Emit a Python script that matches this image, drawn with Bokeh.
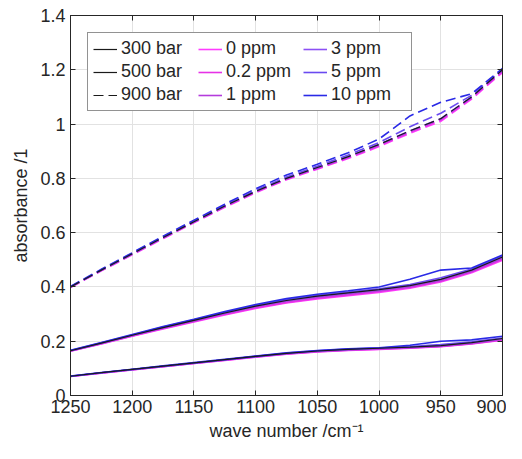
from bokeh.plotting import figure
from bokeh.models import (Range1d, LinearAxis, Legend, LegendItem, FixedTicker,
                          NumeralTickFormatter, CustomJSTickFormatter)
from bokeh.embed import file_html
from bokeh.resources import INLINE

wavenumber = [1250, 1225, 1200, 1175, 1150, 1125, 1100, 1075, 1050, 1025, 1000, 975, 950, 925, 900]

ppm_labels = ["0 ppm", "0.2 ppm", "1 ppm", "3 ppm", "5 ppm", "10 ppm"]
ppm_colors = ["#ff3cff", "#e632e6", "#b43cdc", "#8c50f5", "#6a4af0", "#2a2ae6"]
pressure_labels = ["300 bar", "500 bar", "900 bar"]
pressure_dash = ["solid", "solid", "10 5"]

# 300 bar
a300_0   = [0.070, 0.082, 0.094, 0.106, 0.118, 0.129, 0.141, 0.152, 0.160, 0.166, 0.170, 0.174, 0.180, 0.190, 0.204]
a300_02  = [0.070, 0.083, 0.095, 0.106, 0.118, 0.130, 0.142, 0.153, 0.161, 0.167, 0.171, 0.175, 0.181, 0.191, 0.205]
a300_1   = [0.071, 0.083, 0.095, 0.107, 0.119, 0.131, 0.143, 0.154, 0.162, 0.168, 0.172, 0.176, 0.182, 0.192, 0.207]
a300_3   = [0.071, 0.084, 0.096, 0.108, 0.120, 0.132, 0.144, 0.155, 0.164, 0.170, 0.174, 0.178, 0.184, 0.195, 0.210]
a300_5   = [0.071, 0.084, 0.096, 0.108, 0.120, 0.132, 0.144, 0.156, 0.165, 0.171, 0.175, 0.180, 0.188, 0.198, 0.212]
a300_10  = [0.072, 0.085, 0.097, 0.109, 0.121, 0.133, 0.145, 0.157, 0.166, 0.172, 0.176, 0.185, 0.200, 0.205, 0.218]

# 500 bar
a500_0   = [0.163, 0.190, 0.218, 0.245, 0.271, 0.297, 0.321, 0.341, 0.356, 0.368, 0.380, 0.395, 0.418, 0.452, 0.498]
a500_02  = [0.164, 0.191, 0.219, 0.247, 0.273, 0.299, 0.323, 0.343, 0.358, 0.370, 0.383, 0.398, 0.421, 0.455, 0.502]
a500_1   = [0.164, 0.192, 0.221, 0.249, 0.275, 0.302, 0.327, 0.347, 0.362, 0.374, 0.386, 0.401, 0.424, 0.458, 0.506]
a500_3   = [0.165, 0.193, 0.222, 0.250, 0.277, 0.304, 0.329, 0.350, 0.366, 0.378, 0.390, 0.405, 0.428, 0.462, 0.510]
a500_5   = [0.166, 0.194, 0.223, 0.252, 0.279, 0.306, 0.332, 0.353, 0.369, 0.381, 0.393, 0.409, 0.434, 0.466, 0.514]
a500_10  = [0.167, 0.195, 0.225, 0.254, 0.281, 0.309, 0.335, 0.357, 0.373, 0.386, 0.400, 0.428, 0.462, 0.470, 0.518]

# 900 bar
a900_0   = [0.398, 0.459, 0.518, 0.578, 0.636, 0.693, 0.747, 0.795, 0.834, 0.873, 0.917, 0.966, 1.010, 1.092, 1.190]
a900_02  = [0.399, 0.460, 0.520, 0.580, 0.638, 0.695, 0.749, 0.797, 0.836, 0.876, 0.920, 0.970, 1.015, 1.096, 1.194]
a900_1   = [0.400, 0.461, 0.521, 0.581, 0.639, 0.697, 0.751, 0.799, 0.838, 0.878, 0.923, 0.973, 1.018, 1.099, 1.197]
a900_3   = [0.400, 0.462, 0.522, 0.582, 0.640, 0.698, 0.752, 0.800, 0.840, 0.880, 0.925, 0.975, 1.020, 1.100, 1.200]
a900_5   = [0.401, 0.463, 0.524, 0.584, 0.643, 0.701, 0.756, 0.805, 0.845, 0.886, 0.932, 0.990, 1.040, 1.106, 1.202]
a900_10  = [0.402, 0.465, 0.526, 0.587, 0.646, 0.705, 0.762, 0.812, 0.852, 0.894, 0.945, 1.030, 1.080, 1.112, 1.205]

groups = [
    [a300_0, a300_02, a300_1, a300_3, a300_5, a300_10],
    [a500_0, a500_02, a500_1, a500_3, a500_5, a500_10],
    [a900_0, a900_02, a900_1, a900_3, a900_5, a900_10],
]

x_ticks = [1250, 1200, 1150, 1100, 1050, 1000, 950, 900]
y_ticks = [0, 0.2, 0.4, 0.6, 0.8, 1.0, 1.2, 1.4]

FONT = "Liberation Sans"
AX = "#262626"

p = figure(width=506, height=443, output_backend="svg", toolbar_location=None,
           x_range=Range1d(1250, 900), y_range=Range1d(0, 1.4),
           min_border_left=70, min_border_right=4, min_border_top=15, min_border_bottom=48)
p.outline_line_color = AX
p.outline_line_width = 1
p.background_fill_color = "white"

p.xaxis.axis_label = "wave number /cm\u207b\u00b9"
p.yaxis.axis_label = "absorbance /1"
for ax in (p.xaxis[0], p.yaxis[0]):
    ax.axis_label_text_font = FONT
    ax.axis_label_text_font_size = "18px"
    ax.axis_label_text_font_style = "normal"
    ax.axis_label_text_color = AX
    ax.major_label_text_font = FONT
    ax.major_label_text_font_size = "18px"
    ax.major_label_text_color = AX
    ax.axis_line_color = AX
    ax.major_tick_line_color = AX
    ax.major_tick_in = 5
    ax.major_tick_out = 0
    ax.minor_tick_line_color = None
p.xaxis.ticker = FixedTicker(ticks=x_ticks)
p.yaxis.ticker = FixedTicker(ticks=y_ticks)
p.yaxis.formatter = NumeralTickFormatter(format="0.[0]")
p.xaxis.major_label_standoff = 4
p.yaxis.major_label_standoff = 5
p.xaxis.axis_label_standoff = 5
p.yaxis.axis_label_standoff = 6

p.xgrid.ticker = FixedTicker(ticks=x_ticks)
p.ygrid.ticker = FixedTicker(ticks=y_ticks)
p.grid.grid_line_color = "#e2e2e2"
p.grid.grid_line_width = 1

right = LinearAxis(ticker=FixedTicker(ticks=y_ticks), formatter=CustomJSTickFormatter(code="return ''"),
                   major_tick_in=5, major_tick_out=0, minor_tick_line_color=None,
                   axis_line_color=AX, major_tick_line_color=AX, major_label_standoff=0)
top = LinearAxis(ticker=FixedTicker(ticks=x_ticks), formatter=CustomJSTickFormatter(code="return ''"),
                 major_tick_in=5, major_tick_out=0, minor_tick_line_color=None,
                 axis_line_color=AX, major_tick_line_color=AX, major_label_standoff=0)
p.add_layout(right, "right")
p.add_layout(top, "above")

pressure_renderers = []
ppm_renderers = []
for gi, group in enumerate(groups):
    dash = pressure_dash[gi]
    for ci, series in enumerate(group):
        r = p.line(wavenumber, series, line_color=ppm_colors[ci], line_width=1.6, line_dash=dash)
        if gi == 0:
            ppm_renderers.append(r)
    rb = p.line(wavenumber, group[3], line_color="#1a1a1a", line_width=1.2, line_dash=dash)
    pressure_renderers.append(rb)

items = []
for gi in range(3):
    items.append(LegendItem(label=pressure_labels[gi], renderers=[pressure_renderers[gi]]))
for ci in range(6):
    items.append(LegendItem(label=ppm_labels[ci], renderers=[ppm_renderers[ci]]))

legend = Legend(items=items, location="top_left", ncols=3,
                label_text_font=FONT, label_text_font_size="18px", label_text_color=AX,
                label_height=20, label_width=75, glyph_height=20, glyph_width=24, label_standoff=4,
                spacing=2, padding=5, margin=17,
                border_line_color=AX, border_line_width=1,
                background_fill_color="white", background_fill_alpha=1.0)
p.add_layout(legend)

open("out.html", "w").write(file_html(p, INLINE))
